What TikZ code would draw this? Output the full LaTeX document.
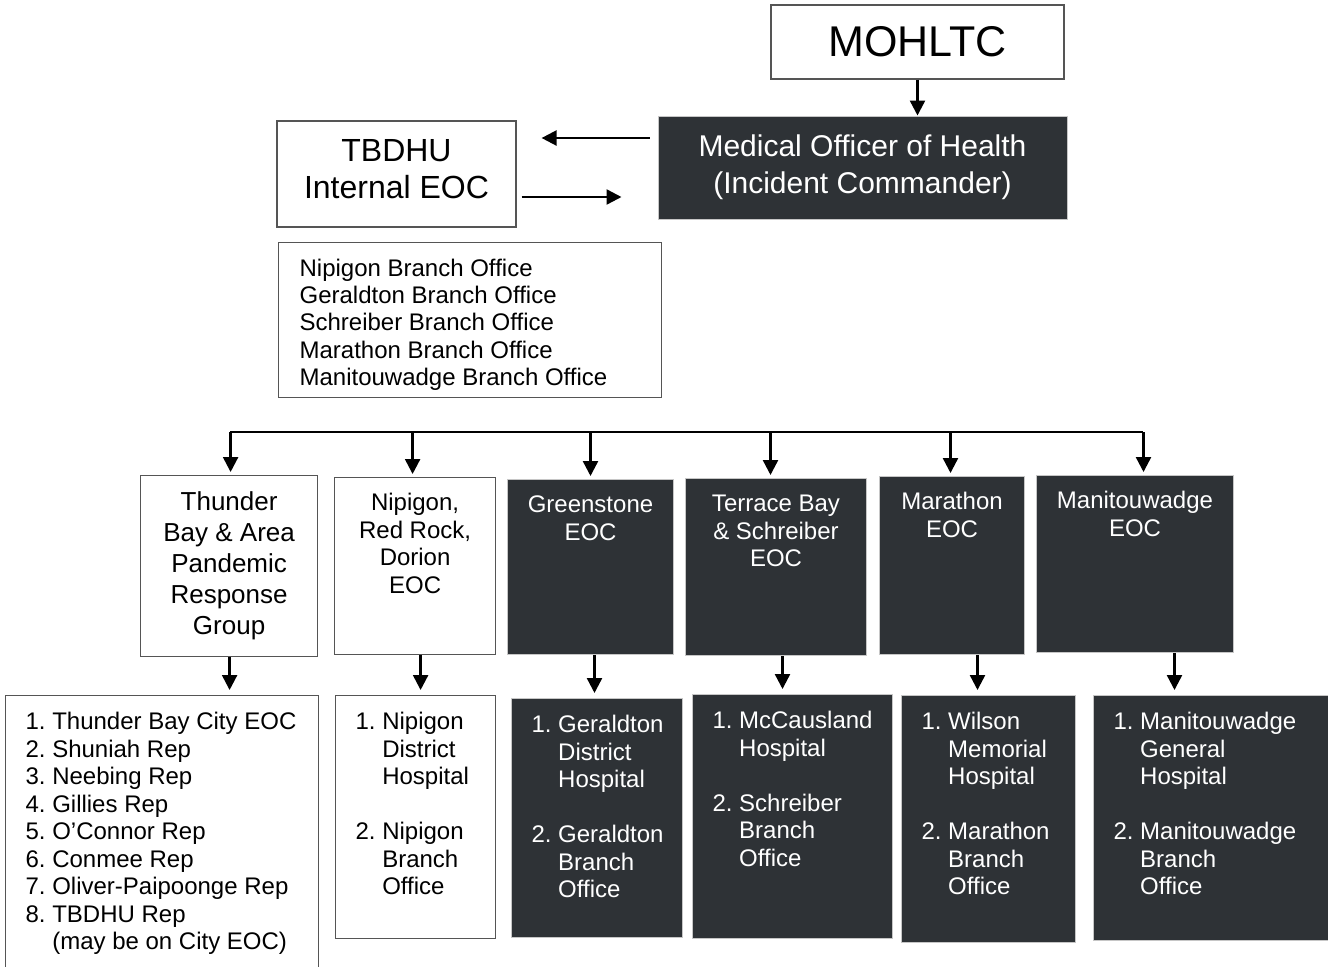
\documentclass[tikz,border=0pt]{standalone}
\usepackage{fontspec}
\setmainfont{Liberation Sans}
\usetikzlibrary{arrows.meta, calc}
\definecolor{panel}{RGB}{46, 50, 54}
\definecolor{edgegrey}{RGB}{85, 85, 85}
\newcommand{\topcell}[3]{\parbox[c][#2][t]{#1}{\centering\rule{0pt}{16.5pt}#3}}
\newcommand{\listcell}[3]{\parbox[c][#2][t]{#1}{\vspace*{7.4pt}\hspace*{10pt}\begin{tabular}[t]{@{}l@{\ }l@{}}#3\end{tabular}}}

\begin{document}
\begin{tikzpicture}[x=0.5pt, y=-0.5pt,
    plainbox/.style={draw=edgegrey, line width=0.6pt, fill=white, inner sep=0pt},
    darkbox/.style={draw=gray!45, line width=0.5pt, fill=panel, text=white, inner sep=0pt},
    cellfont/.style={font=\fontsize{12}{13.75}\selectfont},
    arr/.style={-{Triangle[width=7.5pt,length=7.5pt]}, line width=1.2pt},
    busline/.style={line width=0.7pt}]

        \useasboundingbox (0,0) rectangle (1328,966);
        \clip (0,0) rectangle (1328,966);

        % Top
        \node[plainbox, minimum width=146.5pt, minimum height=37pt, font=\fontsize{21.5}{24}\selectfont] (mohltc) at (917.5,42) {MOHLTC};
        \node[darkbox, minimum width=204.5pt, minimum height=51.5pt, align=center, font=\fontsize{15}{18.5}\selectfont] (moh) at (862.5,167.5)
            {Medical Officer of Health\\(Incident Commander)};
        \node[plainbox, font=\fontsize{16}{18.5}\selectfont] (tbdhu) at (396.5,174)
            {\parbox[c][53pt][t]{119.5pt}{\centering\rule{0pt}{20pt}TBDHU\\Internal EOC}};
        \node[plainbox, anchor=north west, font=\fontsize{12}{13.65}\selectfont] (branches) at (278,242)
            {\parbox[c][77.5pt][t]{191.5pt}{\vspace*{7.2pt}\hspace*{10.5pt}\begin{tabular}[t]{@{}l@{}}
            Nipigon Branch Office\\ Geraldton Branch Office\\ Schreiber Branch Office\\
            Marathon Branch Office\\ Manitouwadge Branch Office\end{tabular}}};

        % Regional EOCs
        \node[plainbox, anchor=north west, font=\fontsize{13}{15.5}\selectfont] (tbpr) at (140,475)
            {\parbox[c][90.5pt][c]{88.5pt}{\centering Thunder\\Bay \& Area\\Pandemic\\Response\\Group}};
        \node[plainbox, anchor=north west, cellfont] (nrd) at (334,477) {\topcell{80.5pt}{88.5pt}{Nipigon,\\Red Rock,\\Dorion\\EOC}};
        \node[darkbox, anchor=north west, cellfont] (grn) at (507,479) {\topcell{83pt}{87.5pt}{Greenstone\\EOC}};
        \node[darkbox, anchor=north west, cellfont] (tbs) at (685,478) {\topcell{90.5pt}{88.5pt}{Terrace Bay\\\& Schreiber\\EOC}};
        \node[darkbox, anchor=north west, cellfont] (mar) at (879,476) {\topcell{72.5pt}{89pt}{Marathon\\EOC}};
        \node[darkbox, anchor=north west, cellfont] (man) at (1036,475) {\topcell{98.5pt}{88.5pt}{Manitouwadge\\EOC}};

        % Members and sites
        \node[plainbox, anchor=north west, cellfont] (tbMembers) at (5,695)
            {\listcell{156.5pt}{150pt}{1. & Thunder Bay City EOC\\ 2. & Shuniah Rep\\ 3. & Neebing Rep\\ 4. & Gillies Rep\\
            5. & O’Connor Rep\\ 6. & Conmee Rep\\ 7. & Oliver-Paipoonge Rep\\ 8. & TBDHU Rep\\ & (may be on City EOC)}};
        \node[plainbox, anchor=north west, cellfont] (nrdSites) at (335,695)
            {\listcell{80pt}{121.5pt}{1. & Nipigon\\ & District\\ & Hospital\\[13.75pt] 2. & Nipigon\\ & Branch\\ & Office}};
        \node[darkbox, anchor=north west, cellfont] (grnSites) at (511,698)
            {\listcell{85.5pt}{119.5pt}{1. & Geraldton\\ & District\\ & Hospital\\[13.75pt] 2. & Geraldton\\ & Branch\\ & Office}};
        \node[darkbox, anchor=north west, cellfont] (tbsSites) at (692,694)
            {\listcell{100pt}{122pt}{1. & McCausland\\ & Hospital\\[13.75pt] 2. & Schreiber\\ & Branch\\ & Office}};
        \node[darkbox, anchor=north west, cellfont] (marSites) at (901,695)
            {\listcell{87pt}{123.5pt}{1. & Wilson\\ & Memorial\\ & Hospital\\[13.75pt] 2. & Marathon\\ & Branch\\ & Office}};
        \node[darkbox, anchor=north west, cellfont] (manSites) at (1093,695)
            {\listcell{130pt}{122.5pt}{1. & Manitouwadge\\ & General\\ & Hospital\\[13.75pt] 2. & Manitouwadge\\ & Branch\\ & Office}};

        % Arrows
        \draw[arr] (mohltc.south) -- (mohltc.south |- moh.north);
        \coordinate (mohIn) at ([yshift=14.75pt]moh.west);
        \draw[arr, shorten <=4pt, shorten >=12.5pt] (mohIn) -- (mohIn -| tbdhu.east);
        \coordinate (tbdhuOut) at ([yshift=-11.5pt]tbdhu.east);
        \draw[arr, shorten <=2.5pt, shorten >=18pt] (tbdhuOut) -- (tbdhuOut -| moh.west);

        \coordinate (busL) at (230,432);
        \coordinate (busR) at (1143,432);
        \draw[busline] (busL) -- (busR);
        \foreach \n/\dx in {tbpr/1.5, nrd/-2.5, grn/0, tbs/-5.5, mar/-1.5, man/8.5} {
            \coordinate (drop) at ($(\n.north)+(\dx,0)$);
            \draw[arr, shorten >=1.5pt] (drop |- busL) -- (drop);
        }
        \foreach \a/\b/\dx in {tbpr/tbMembers/0.5, nrd/nrdSites/5.5, grn/grnSites/4, tbs/tbsSites/6.5, mar/marSites/25.5, man/manSites/39.5} {
            \coordinate (feed) at ($(\a.south)+(\dx,0)$);
            \draw[arr, shorten >=2.5pt] (feed) -- (feed |- \b.north);
        }

    \end{tikzpicture}
\end{document}
